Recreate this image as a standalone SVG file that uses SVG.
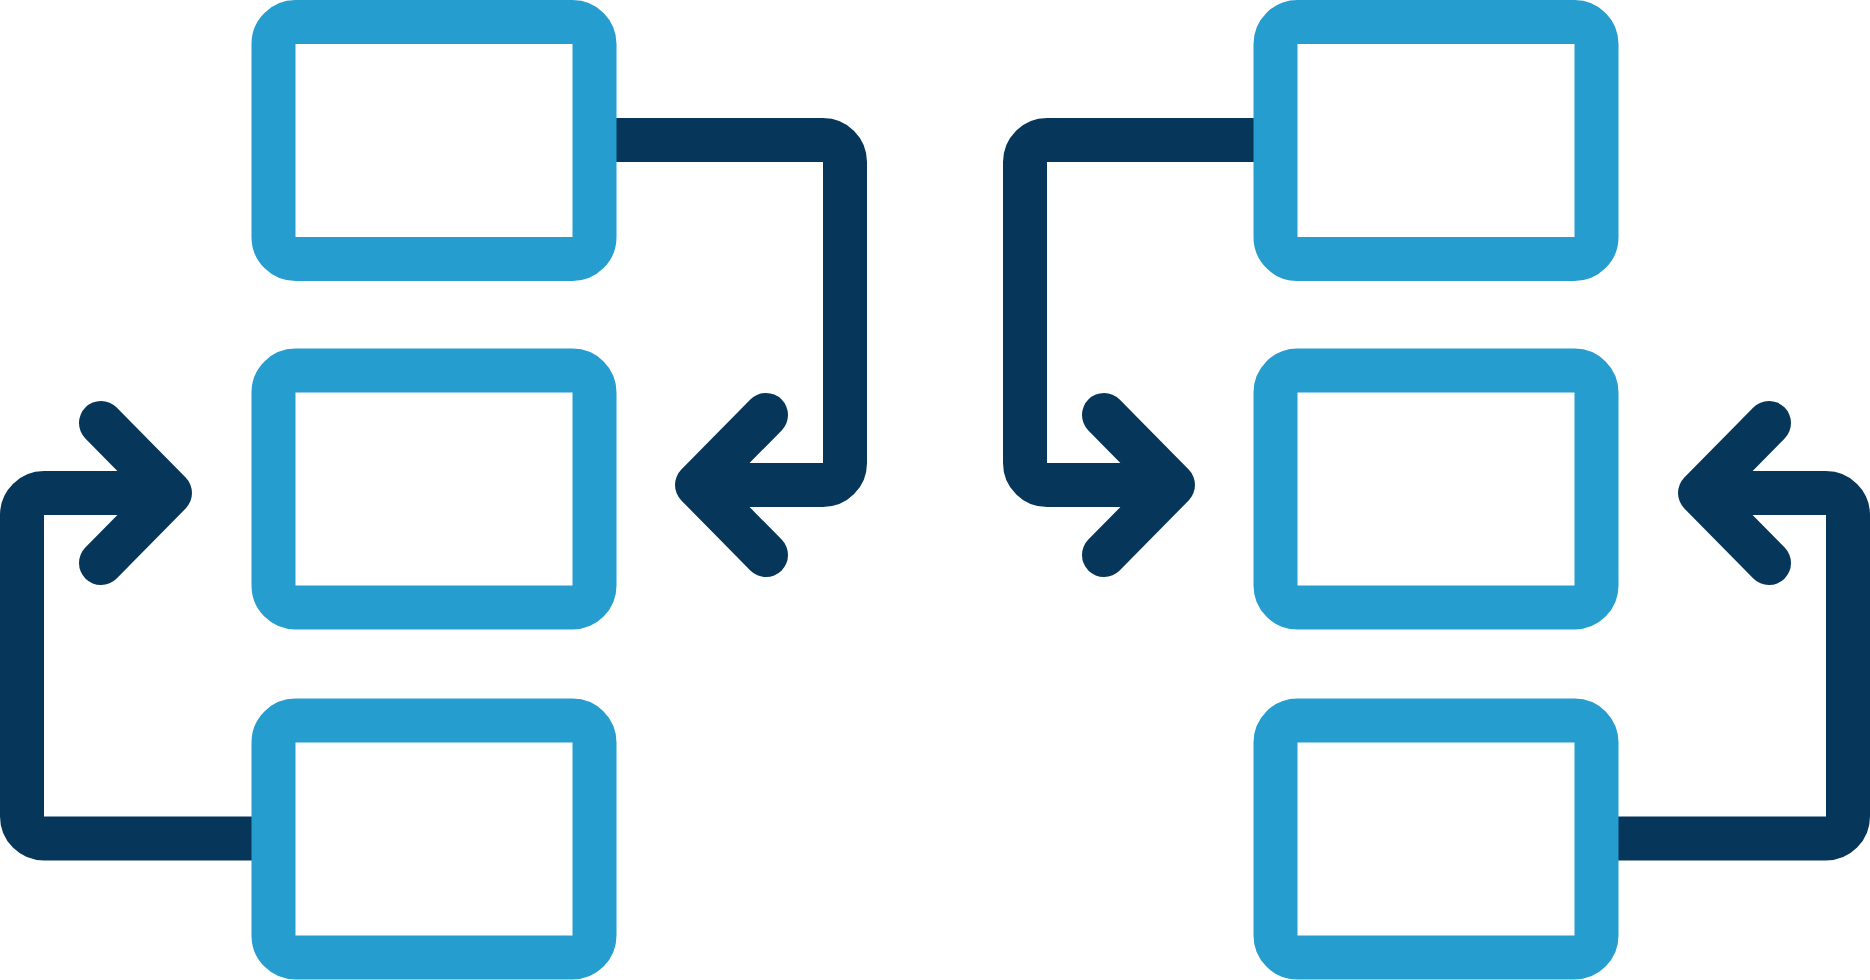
<svg xmlns="http://www.w3.org/2000/svg" width="1870" height="980" viewBox="0 0 1870 980">
<style>
.box{fill:#ffffff;stroke:#259ecf;stroke-width:44}
.con{fill:none;stroke:#06375a;stroke-width:44}
.arr{fill:none;stroke:#06375a;stroke-width:44;stroke-linecap:round;stroke-linejoin:round}
</style>
<rect width="1870" height="980" fill="#ffffff"/>
<g id="connectors">
<path class="con" d="M594.5 140 H823 A22 22 0 0 1 845 162 V463 A22 22 0 0 1 823 485 H697"/>
<path class="arr" d="M766 415 L697 485 L766 555"/>
<path class="con" d="M273.5 838.5 H44 A22 22 0 0 1 22 816.5 V515 A22 22 0 0 1 44 493 H170"/>
<path class="arr" d="M101 423 L170 493 L101 563"/>
<path class="con" d="M1275.5 140 H1047 A22 22 0 0 0 1025 162 V463 A22 22 0 0 0 1047 485 H1173"/>
<path class="arr" d="M1104 415 L1173 485 L1104 555"/>
<path class="con" d="M1596.5 838.5 H1826 A22 22 0 0 0 1848 816.5 V515 A22 22 0 0 0 1826 493 H1700"/>
<path class="arr" d="M1769 423 L1700 493 L1769 563"/>
</g>
<g id="box-left-top"><rect class="box" x="273.5" y="22" width="321" height="237" rx="22"/></g>
<g id="box-left-middle"><rect class="box" x="273.5" y="370.5" width="321" height="237" rx="22"/></g>
<g id="box-left-bottom"><rect class="box" x="273.5" y="720.5" width="321" height="237" rx="22"/></g>
<g id="box-right-top"><rect class="box" x="1275.5" y="22" width="321" height="237" rx="22"/></g>
<g id="box-right-middle"><rect class="box" x="1275.5" y="370.5" width="321" height="237" rx="22"/></g>
<g id="box-right-bottom"><rect class="box" x="1275.5" y="720.5" width="321" height="237" rx="22"/></g>
</svg>
